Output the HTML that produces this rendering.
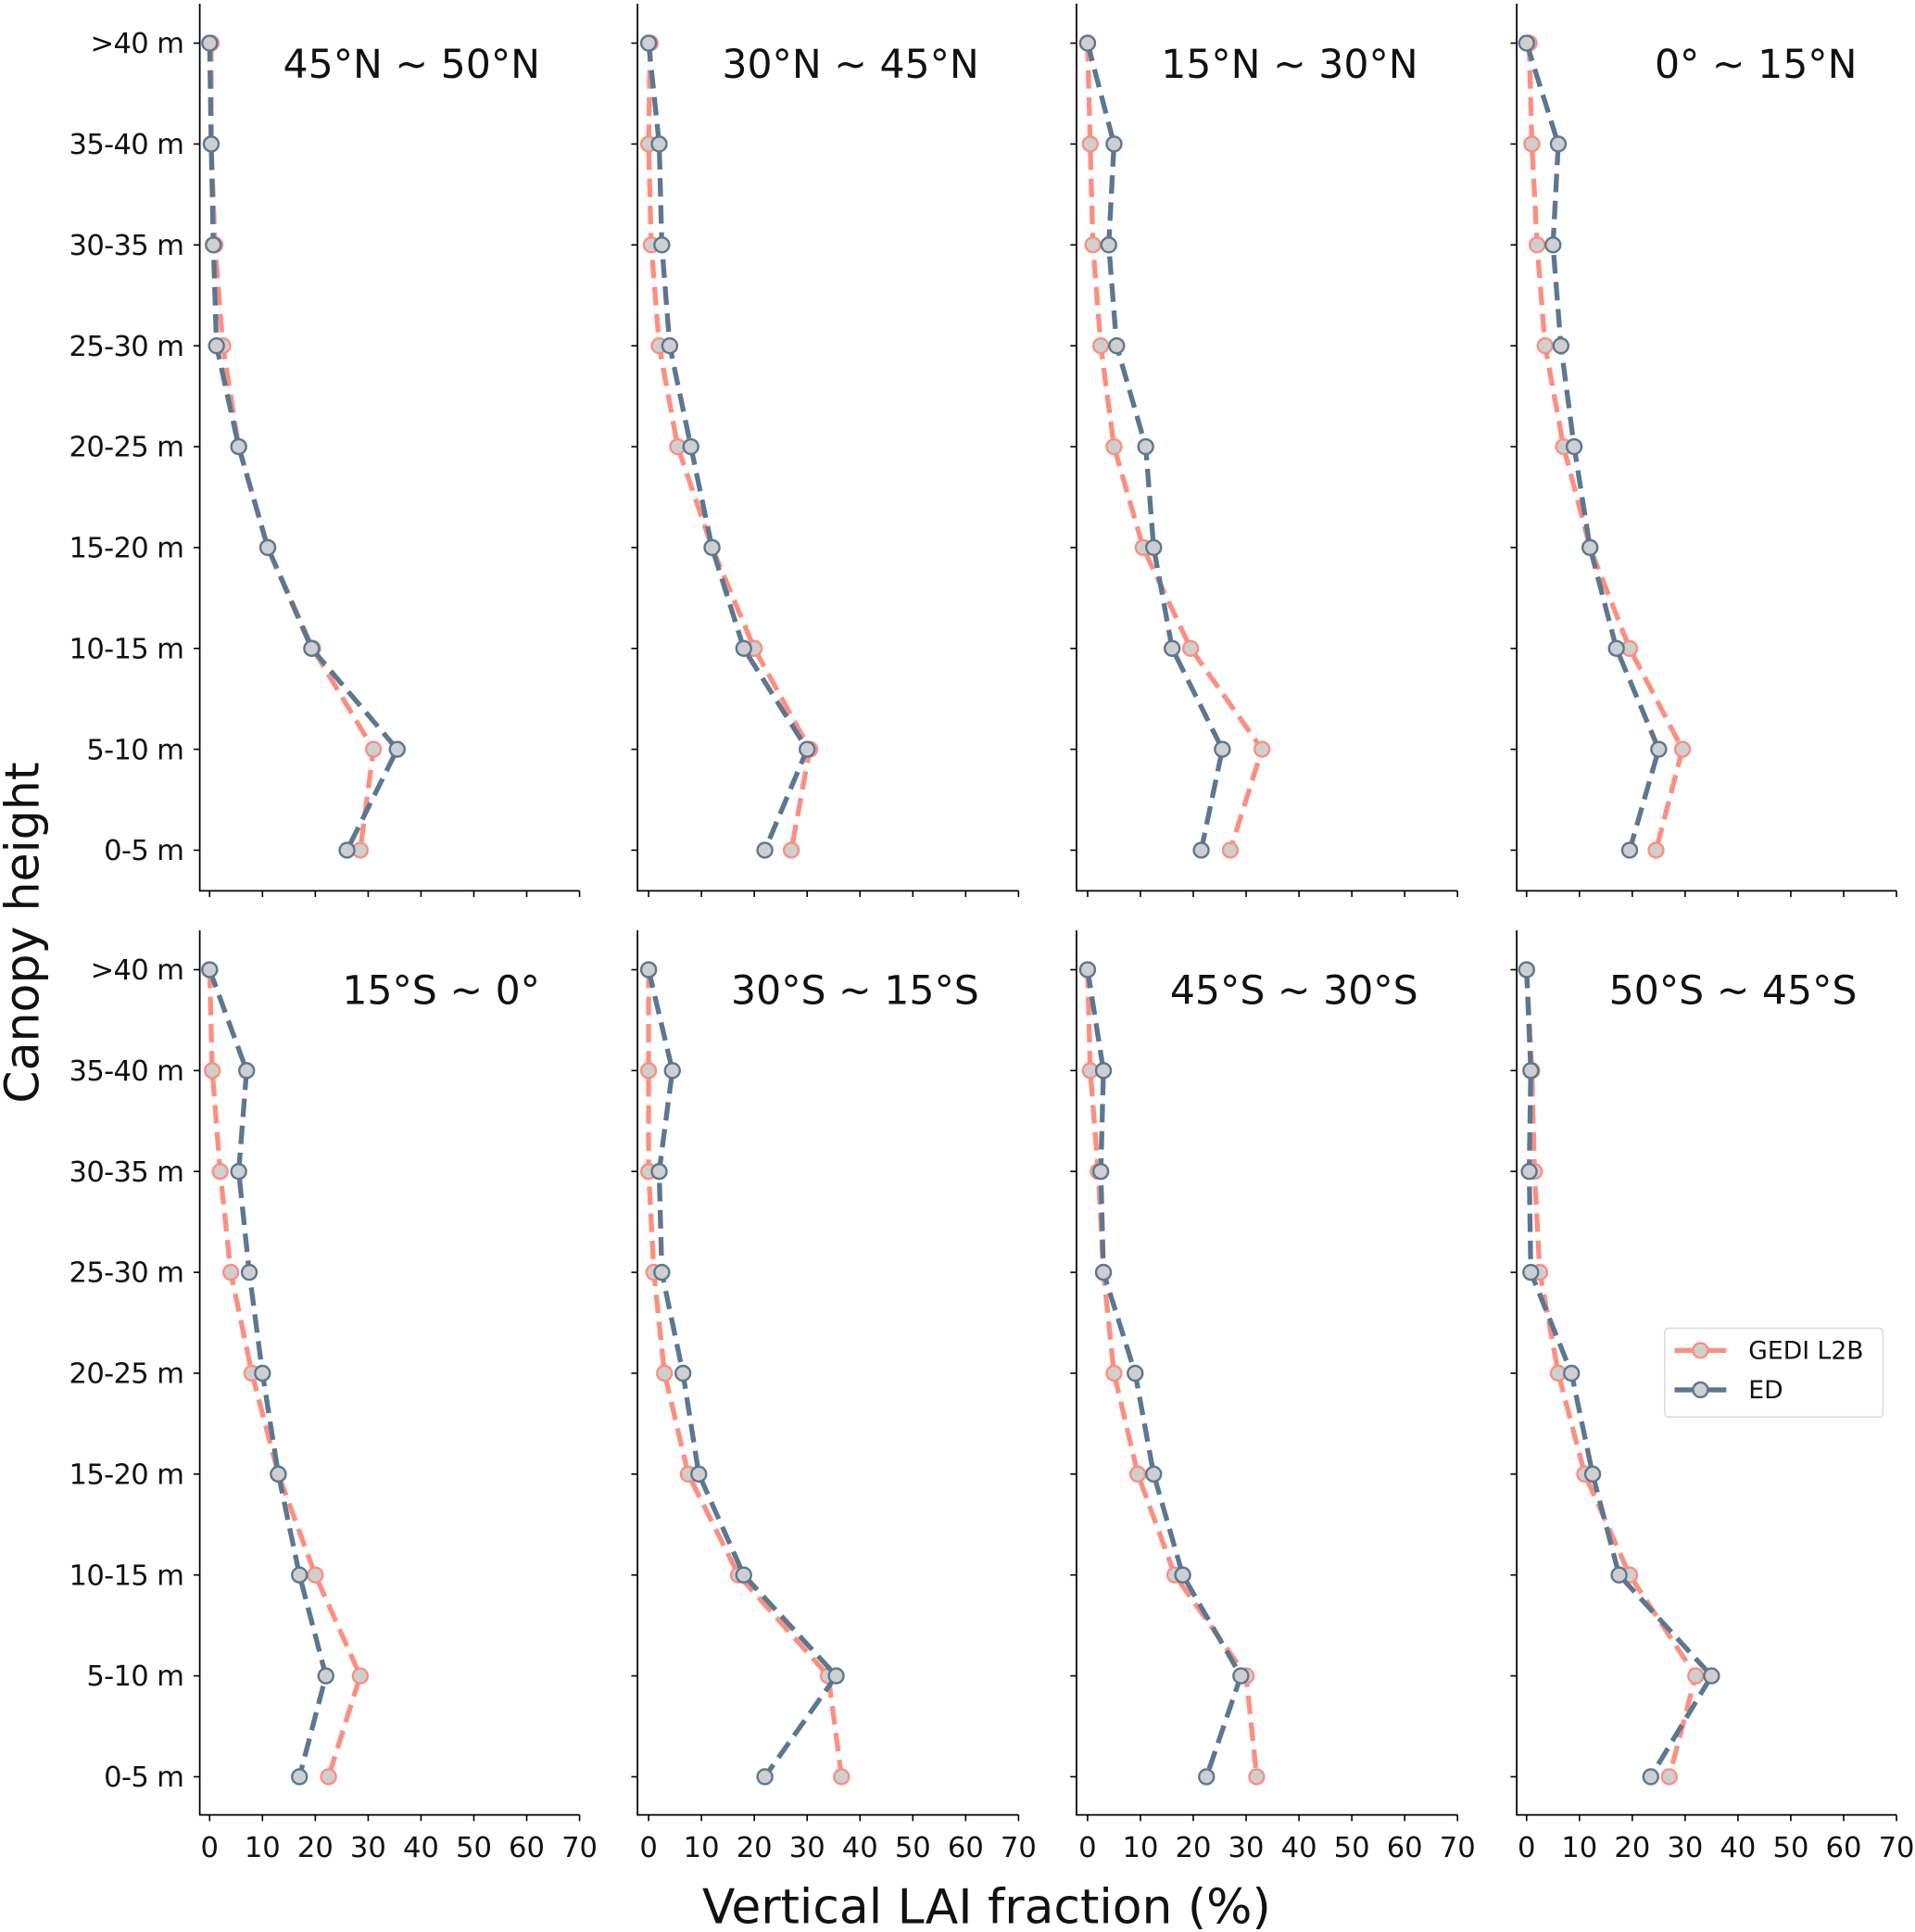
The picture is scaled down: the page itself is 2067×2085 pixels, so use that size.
<!DOCTYPE html>
<html><head><meta charset="utf-8"><style>
html,body{margin:0;padding:0;background:#fff}
svg{display:block}
text{font-family:"DejaVu Sans","Liberation Sans",sans-serif;fill:#111}
</style></head><body>
<svg id="fig" width="2067" height="2085" viewBox="0 0 1553 1568" preserveAspectRatio="none" xmlns="http://www.w3.org/2000/svg"></svg>
<script>
const categories = [">40 m","35-40 m","30-35 m","25-30 m","20-25 m","15-20 m","10-15 m","5-10 m","0-5 m"];
const xTicks = [0,10,20,30,40,50,60,70];
const titles = ["45°N ~ 50°N","30°N ~ 45°N","15°N ~ 30°N","0° ~ 15°N","15°S ~ 0°","30°S ~ 15°S","45°S ~ 30°S","50°S ~ 45°S"];
const gedi1=[0.3,0.3,1,2.5,5.5,11,19.5,31,28.5];
const ed1=[0,0.3,0.7,1.3,5.5,11,19.3,35.5,26];
const gedi2=[0.3,0,0.5,2,5.5,12,20,30.5,27];
const ed2=[0,2,2.5,4,8,12,18,30,22];
const gedi3=[0,0.5,1,2.5,5,10.5,19.5,33,27];
const ed3=[0,5,4,5.5,11,12.5,16,25.5,21.5];
const gedi4=[0.5,1,2,3.5,7,12,19.5,29.5,24.5];
const ed4=[0,6,5,6.5,9,12,17,25,19.5];
const gedi5=[0,0.5,2,4,8,13,20,28.5,22.5];
const ed5=[0,7,5.5,7.5,10,13,17,22,17];
const gedi6=[0,0,0,1,3,7.5,17,34,36.5];
const ed6=[0,4.5,2,2.5,6.5,9.5,18,35.5,22];
const gedi7=[0,0.5,2,3,5,9.5,16.5,30,32];
const ed7=[0,3,2.5,3,9,12.5,18,29,22.5];
const gedi8=[0,1,1.5,2.5,6,11,19.5,32,27];
const ed8=[0,0.8,0.5,0.8,8.5,12.5,17.5,35,23.5];
const gediSeries=[gedi1,gedi2,gedi3,gedi4,gedi5,gedi6,gedi7,gedi8];
const edSeries=[ed1,ed2,ed3,ed4,ed5,ed6,ed7,ed8];

const NS="http://www.w3.org/2000/svg";
const svg=document.getElementById('fig');
function mk(tag,attrs,parent){const e=document.createElementNS(NS,tag);for(const k in attrs)e.setAttribute(k,attrs[k]);(parent||svg).appendChild(e);return e;}
const GC="#fc8f80", EC="#5b7792";
const colLeft=[162,517,873,1230], colX0=[170,526,882,1238];
const rowTop=[35,787], rowAxis=[723,1473], rowSpine=[3,755];
const pxPerUnit=300/70, rowStep=(690-35)/8;

for(let p=0;p<8;p++){
  const c=p%4, r=Math.floor(p/4);
  const g=mk('g',{});
  
  
  const xs=v=>colX0[c]+v*pxPerUnit;
  const ys=i=>rowTop[r]+i*rowStep;
  const L=colLeft[c], R=colX0[c]+300, B=rowAxis[r];
  const sp=mk('path',{d:`M${L},${rowSpine[r]}V${B}H${R}`,fill:'none',stroke:'#000','stroke-width':1.3},g);
  
  
  categories.forEach((cat,i)=>{
    mk('line',{x1:L-5,x2:L,y1:ys(i),y2:ys(i),stroke:'#000','stroke-width':1.2},g);
    if(c===0){const t=mk('text',{x:L-13,y:ys(i)+8,'text-anchor':'end','font-size':23,'letter-spacing':'-0.5'},g);t.textContent=cat;
      
      }
  });
  xTicks.forEach(v=>{
    mk('line',{x1:xs(v),x2:xs(v),y1:B,y2:B+5,stroke:'#000','stroke-width':1.2},g);
    if(r===1){const t=mk('text',{x:xs(v),y:B+34,'text-anchor':'middle','font-size':23},g);t.textContent=v;
      
      }
  });
  const tt=mk('text',{x:R-32,y:rowTop[r]+28,'text-anchor':'end','font-size':32},g);tt.textContent=titles[p];
  
  
  [[gediSeries[p],GC,'gedi'],[edSeries[p],EC,'ed']].forEach(([d,col,nm])=>{
    const pl=mk('polyline',{points:d.map((v,i)=>xs(v)+','+ys(i)).join(' '),fill:'none',stroke:col,'stroke-width':4,'stroke-dasharray':'15,7'},g);
    
    
    d.forEach((v,i)=>{const m=mk('circle',{cx:xs(v),cy:ys(i),r:6,fill:'#cfcfcf',stroke:col,'stroke-width':1.8},g);
      
      });
  });
}
const lg=mk('g',{});


mk('rect',{x:1350,y:1078,width:177,height:72,rx:3,fill:'#fff',stroke:'#ddd','stroke-width':1.2},lg);
[[GC,'GEDI L2B',1096],[EC,'ED',1128]].forEach(([col,lab,y])=>{
  mk('line',{x1:1358,x2:1400,y1:y,y2:y,stroke:col,'stroke-width':4},lg);
  mk('circle',{cx:1379,cy:y,r:6,fill:'#cfcfcf',stroke:col,'stroke-width':1.8},lg);
  const t=mk('text',{x:1418,y:y+7,'font-size':20},lg);t.textContent=lab;
  
  
});
const xl=mk('text',{x:800,y:1561,'text-anchor':'middle','font-size':39});xl.textContent='Vertical LAI fraction (%)';


const yl=mk('text',{x:0,y:0,'text-anchor':'middle','font-size':38,transform:'translate(31,757) rotate(-90)'});yl.textContent='Canopy height';


</script>
</body></html>
